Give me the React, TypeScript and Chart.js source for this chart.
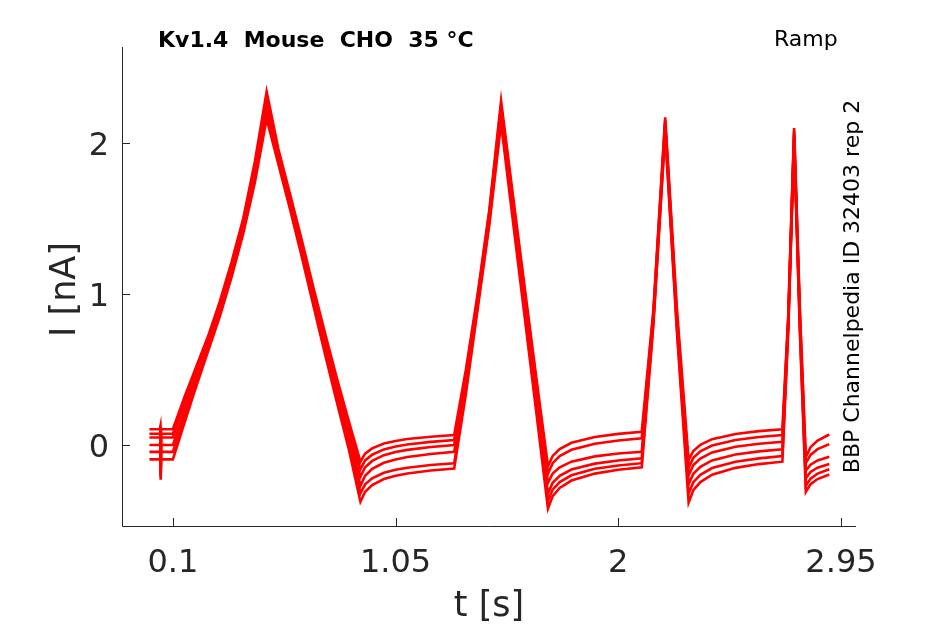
import React, { useEffect, useRef } from 'react';
import Chart from 'chart.js/auto';

// sample times [s], shared by all sweeps
const times = [
  0, 0.044, 0.046, 0.048, 0.05, 0.1,
  0.15, 0.2, 0.25, 0.3, 0.35, 0.4, 0.45, 0.5,
  0.55, 0.6, 0.65, 0.7, 0.75, 0.8, 0.85, 0.9,
  0.92, 0.95, 1.0, 1.05, 1.1, 1.2, 1.3,
  1.35, 1.4, 1.45, 1.5,
  1.55, 1.6, 1.65, 1.7,
  1.72, 1.75, 1.8, 1.9, 2.0, 2.1,
  2.15, 2.2, 2.25, 2.3,
  2.32, 2.35, 2.4, 2.5, 2.6, 2.7,
  2.725, 2.75, 2.775, 2.8,
  2.82, 2.85, 2.9,
];

// current [nA] of each sweep
const sweep1 = [
  0.105, 0.105, 0.12, -0.12, 0.105, 0.105,
  0.32, 0.52, 0.72, 0.95, 1.21, 1.5, 1.88, 2.34,
  1.96, 1.66, 1.355, 1.04, 0.735, 0.44, 0.16, -0.11,
  -0.057, -0.022, 0.01, 0.027, 0.04, 0.055, 0.066,
  0.5, 1.0, 1.56, 2.28,
  1.66, 1.05, 0.45, -0.14,
  -0.072, -0.026, 0.015, 0.054, 0.074, 0.088,
  0.9, 2.17, 0.9, -0.1,
  -0.039, 0.002, 0.039, 0.073, 0.092, 0.104,
  0.86, 2.1, 0.88, -0.08,
  -0.014, 0.03, 0.07,
];
const sweep2 = [
  0.075, 0.075, 0.09, -0.15, 0.075, 0.075,
  0.29, 0.50, 0.70, 0.93, 1.19, 1.48, 1.85, 2.30,
  1.94, 1.64, 1.333, 1.016, 0.71, 0.415, 0.13, -0.16,
  -0.102, -0.064, -0.029, -0.009, 0.004, 0.021, 0.033,
  0.47, 0.98, 1.54, 2.25,
  1.64, 1.03, 0.42, -0.19,
  -0.12, -0.073, -0.031, 0.009, 0.03, 0.044,
  0.88, 2.15, 0.87, -0.15,
  -0.085, -0.042, -0.003, 0.034, 0.053, 0.066,
  0.84, 2.08, 0.85, -0.12,
  -0.065, -0.027, 0.006,
];
const sweep3 = [
  0.05, 0.05, 0.065, -0.17, 0.05, 0.05,
  0.27, 0.48, 0.685, 0.915, 1.175, 1.465, 1.83, 2.27,
  1.92, 1.62, 1.311, 0.992, 0.683, 0.385, 0.095, -0.21,
  -0.147, -0.105, -0.067, -0.046, -0.032, -0.013, 0.0,
  0.44, 0.96, 1.52, 2.22,
  1.60, 0.985, 0.37, -0.25,
  -0.188, -0.147, -0.11, -0.075, -0.056, -0.044,
  0.86, 2.13, 0.84, -0.2,
  -0.133, -0.089, -0.049, -0.011, 0.009, 0.022,
  0.82, 2.06, 0.82, -0.17,
  -0.13, -0.102, -0.078,
];
const sweep4 = [
  0.0, 0.0, 0.015, -0.2, 0.0, 0.0,
  0.23, 0.45, 0.66, 0.89, 1.15, 1.44, 1.80, 2.24,
  1.90, 1.60, 1.289, 0.968, 0.655, 0.35, 0.055, -0.27,
  -0.203, -0.158, -0.117, -0.095, -0.079, -0.059, -0.045,
  0.41, 0.94, 1.50, 2.19,
  1.56, 0.935, 0.31, -0.32,
  -0.25, -0.204, -0.162, -0.123, -0.102, -0.088,
  0.84, 2.11, 0.81, -0.26,
  -0.19, -0.144, -0.102, -0.063, -0.042, -0.028,
  0.8, 2.04, 0.79, -0.22,
  -0.178, -0.15, -0.125,
];
const sweep5 = [
  -0.045, -0.045, -0.03, -0.21, -0.045, -0.045,
  0.19, 0.42, 0.64, 0.87, 1.13, 1.42, 1.77, 2.20,
  1.88, 1.58, 1.265, 0.94, 0.625, 0.315, 0.015, -0.32,
  -0.26, -0.22, -0.184, -0.164, -0.15, -0.132, -0.12,
  0.37, 0.92, 1.48, 2.16,
  1.53, 0.895, 0.26, -0.37,
  -0.295, -0.245, -0.2, -0.157, -0.135, -0.12,
  0.82, 2.09, 0.78, -0.32,
  -0.246, -0.197, -0.152, -0.11, -0.088, -0.073,
  0.78, 2.02, 0.76, -0.27,
  -0.222, -0.189, -0.16,
];
const sweep6 = [
  -0.095, -0.095, -0.08, -0.23, -0.095, -0.095,
  0.15, 0.39, 0.62, 0.85, 1.11, 1.40, 1.74, 2.16,
  1.86, 1.56, 1.245, 0.92, 0.595, 0.28, -0.025, -0.375,
  -0.309, -0.265, -0.225, -0.203, -0.188, -0.168, -0.155,
  0.34, 0.90, 1.46, 2.13,
  1.49, 0.855, 0.22, -0.42,
  -0.338, -0.284, -0.235, -0.189, -0.164, -0.148,
  0.8, 2.07, 0.75, -0.38,
  -0.299, -0.245, -0.196, -0.151, -0.126, -0.11,
  0.76, 2.0, 0.73, -0.31,
  -0.259, -0.225, -0.195,
];

const sweeps = [sweep1, sweep2, sweep3, sweep4, sweep5, sweep6];

const xTicks = [0.1, 1.05, 2, 2.95];
const xTickLabels = ['0.1', '1.05', '2', '2.95'];
const yTicks = [0, 1, 2];
const yTickLabels = ['0', '1', '2'];

const titleText = 'Kv1.4  Mouse  CHO  35 °C';
const protocolText = 'Ramp';
const sideText = 'BBP Channelpedia ID 32403 rep 2';

const FONT = '"DejaVu Sans", sans-serif';
const AXIS = '#262626';

// matlab-like axes, ticks and labels
const overlayPlugin = {
  id: 'overlay',
  afterDraw(chart: any) {
    const { ctx, chartArea: a } = chart;
    const xs = chart.scales.x;
    const ys = chart.scales.y;
    ctx.save();

    ctx.strokeStyle = AXIS;
    ctx.lineWidth = 1;
    ctx.beginPath();
    ctx.moveTo(a.left + 0.5, a.top);
    ctx.lineTo(a.left + 0.5, a.bottom + 0.5);
    ctx.lineTo(a.right, a.bottom + 0.5);
    xTicks.forEach((v) => {
      const px = Math.round(xs.getPixelForValue(v)) + 0.5;
      ctx.moveTo(px, a.bottom);
      ctx.lineTo(px, a.bottom - 8);
    });
    yTicks.forEach((v) => {
      const py = Math.round(ys.getPixelForValue(v)) + 0.5;
      ctx.moveTo(a.left, py);
      ctx.lineTo(a.left + 8, py);
    });
    ctx.stroke();

    ctx.fillStyle = AXIS;
    ctx.font = `32px ${FONT}`;
    ctx.textBaseline = 'alphabetic';
    ctx.textAlign = 'center';
    xTicks.forEach((v, i) => {
      ctx.fillText(xTickLabels[i], xs.getPixelForValue(v), 572);
    });
    ctx.textAlign = 'right';
    yTicks.forEach((v, i) => {
      ctx.fillText(yTickLabels[i], 109, ys.getPixelForValue(v) + 12);
    });

    ctx.font = `35px ${FONT}`;
    ctx.textAlign = 'center';
    ctx.fillText('t [s]', (a.left + a.right) / 2, 616);
    ctx.save();
    ctx.translate(75, (a.top + a.bottom) / 2 + 3);
    ctx.rotate(-Math.PI / 2);
    ctx.fillText('I [nA]', 0, 0);
    ctx.restore();

    ctx.fillStyle = '#000';
    ctx.font = `bold 22px ${FONT}`;
    ctx.textAlign = 'left';
    ctx.fillText(titleText, 158, 47);
    ctx.font = `22px ${FONT}`;
    ctx.fillText(protocolText, 774, 46);
    ctx.save();
    ctx.translate(859, (a.top + a.bottom) / 2);
    ctx.rotate(-Math.PI / 2);
    ctx.textAlign = 'center';
    ctx.fillText(sideText, 0, 0);
    ctx.restore();

    ctx.restore();
  },
};

const RampChart: React.FC = () => {
  const canvasRef = useRef<HTMLCanvasElement | null>(null);

  useEffect(() => {
    const ctx = canvasRef.current?.getContext('2d');
    if (!ctx) {
      return;
    }

    const chart = new Chart(ctx, {
      type: 'line',
      data: {
        datasets: sweeps.map((s, i) => ({
          label: `sweep ${i + 1}`,
          data: times.map((t, j) => ({ x: t, y: s[j] })),
          borderColor: '#ff0000',
          borderWidth: 2.6,
          pointRadius: 0,
          tension: 0,
          fill: false,
        })),
      },
      options: {
        animation: false,
        responsive: true,
        maintainAspectRatio: false,
        layout: { padding: { left: 122, top: 47, right: 89, bottom: 98 } },
        plugins: {
          legend: { display: false },
          tooltip: { enabled: false },
        },
        scales: {
          x: { type: 'linear', min: -0.117, max: 3.014, display: false },
          y: { type: 'linear', min: -0.536, max: 2.636, display: false },
        },
      },
      plugins: [overlayPlugin],
    });

    return () => {
      chart.destroy();
    };
  }, []);

  return (
    <div style={{ position: 'absolute', left: 0, top: 0, width: 945, height: 624, background: '#fff' }}>
      <canvas ref={canvasRef} />
    </div>
  );
};

export default function App() {
  return <RampChart />;
}
